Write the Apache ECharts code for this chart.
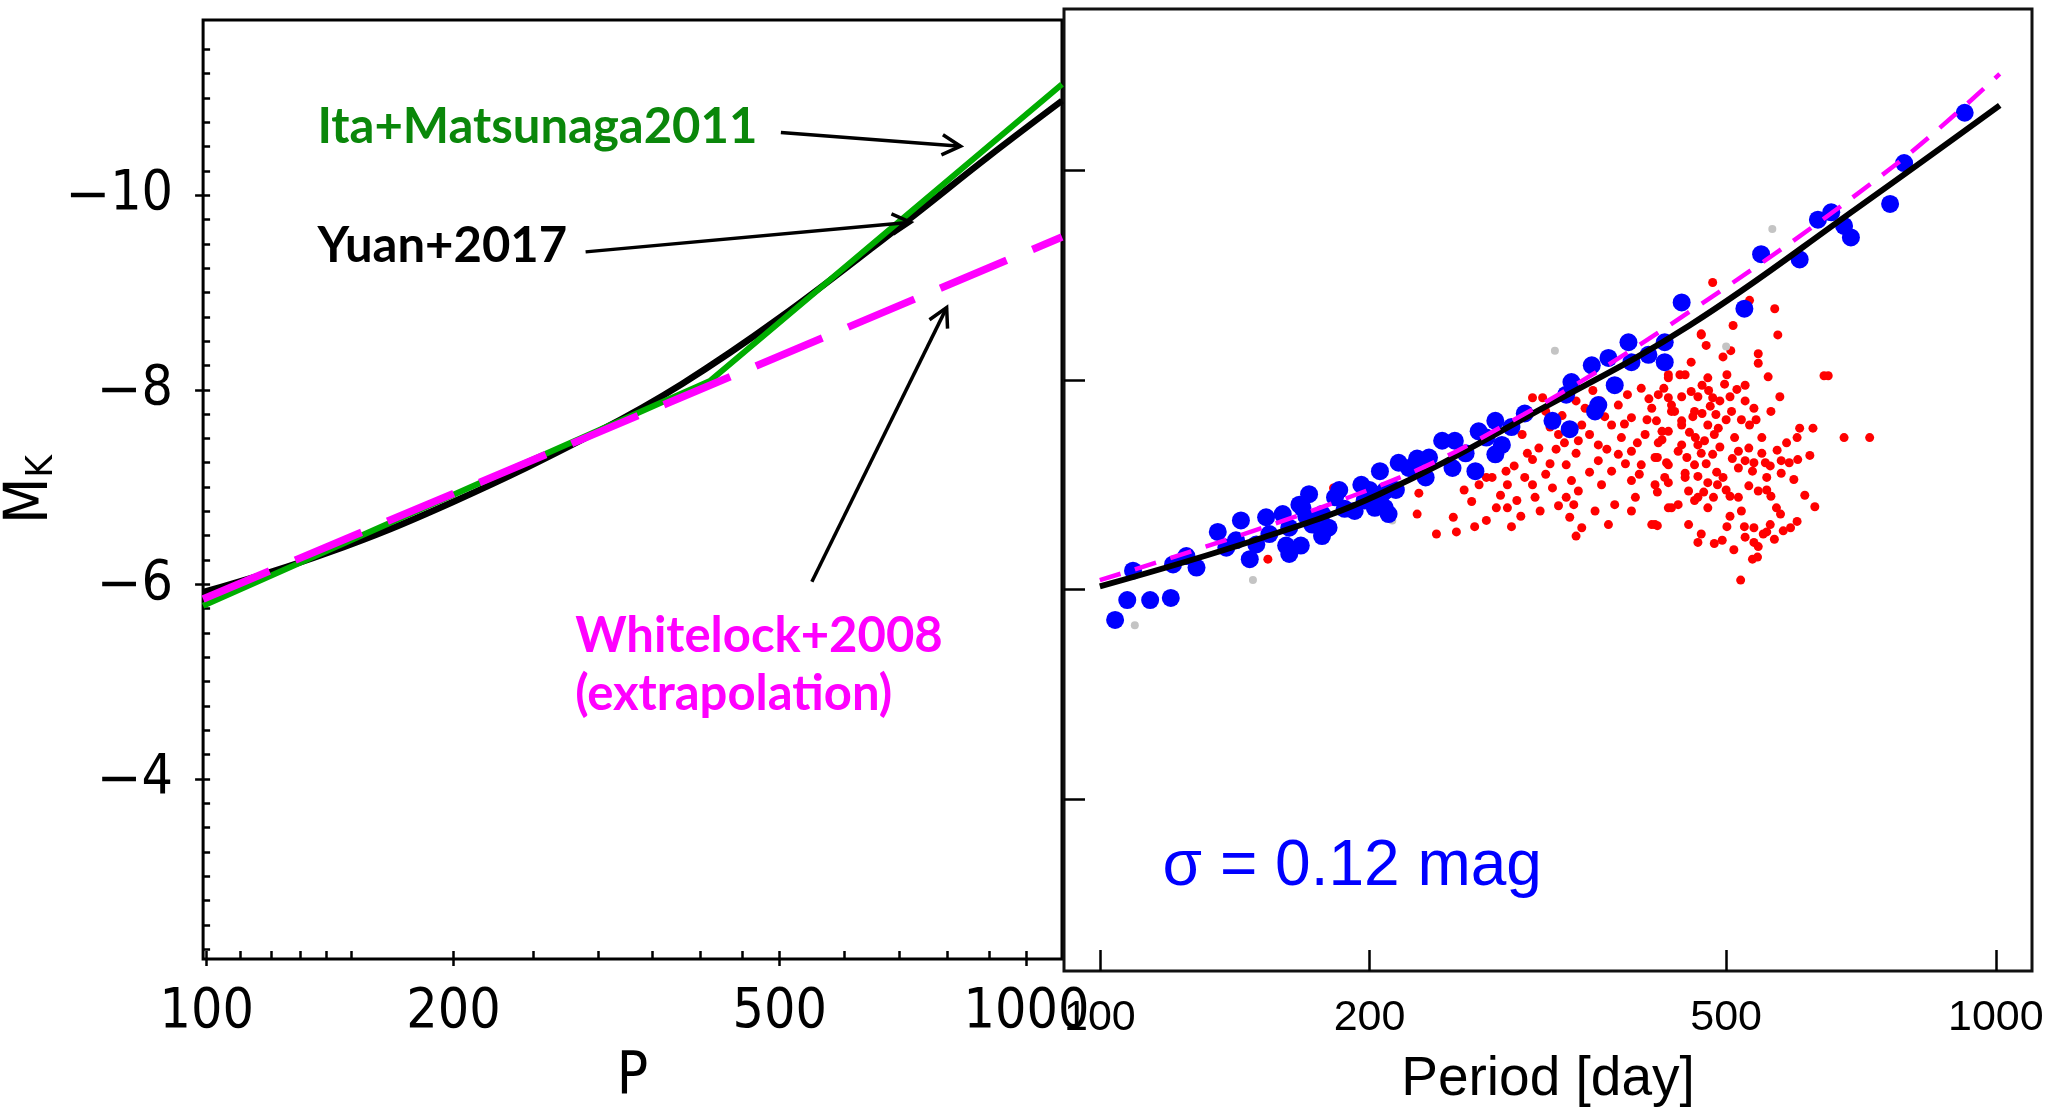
<!DOCTYPE html>
<html><head><meta charset="utf-8">
<script src="https://cdn.jsdelivr.net/npm/echarts@6.0.0/dist/echarts.min.js"></script>
<style>html,body{margin:0;padding:0;background:#fff}#c{width:2060px;height:1112px}</style>
</head><body><div id="c"></div>
<script>
// ---------------- Left panel data ----------------
const yuanP = [99, 140, 200, 300, 380, 500, 706, 900, 1105];
const yuanM = [-5.92, -6.32, -6.85, -7.57, -8.06, -8.74, -9.70, -10.40, -10.97];
const itaP = [99, 411, 1105];
const itaM = [-5.78, -8.09, -11.14];
const whiteP = [99, 1105];
const whiteM = [-5.85, -9.57];

const leftXLabels = [100, 200, 500, 1000];
const leftXTicks = [100, 110, 120, 130, 140, 150, 200, 250, 300, 350, 400, 450, 500, 600, 700, 800, 900, 1000];
const leftYLabels = [-10, -8, -6, -4];
const leftYTicks = [-11.5, -11.25, -11, -10.75, -10.5, -10.25, -10, -9.75, -9.5, -9.25, -9, -8.75, -8.5, -8.25, -8,
  -7.75, -7.5, -7.25, -7, -6.75, -6.5, -6.25, -6, -5.75, -5.5, -5.25, -5, -4.75, -4.5, -4.25, -4,
  -3.75, -3.5, -3.25, -3, -2.75, -2.5, -2.25];

const annotText = ['Ita+Matsunaga2011', 'Yuan+2017', 'Whitelock+2008', '(extrapolation)'];
const annotP = [136.5, 136.5, 281.5, 281.5];
const annotM = [-10.70, -9.475, -5.467, -4.876];
const arrowFromP = [501.7, 289.9, 547.3];
const arrowFromM = [-10.645, -9.417, -6.026];
const arrowToP = [831, 722.5, 799.2];
const arrowToM = [-10.503, -9.721, -8.844];

// ---------------- Right panel data ----------------
const fitP = [100, 150, 205, 315, 455, 700, 1010];
const fitM = [-6.03, -6.48, -6.91, -7.75, -8.52, -9.64, -10.62];
const dashP = [100, 205, 297, 455, 761, 1010];
const dashM = [-6.09, -6.99, -7.67, -8.65, -10.01, -10.92];
const rightXLabels = [100, 200, 500, 1000];
const rightYTicks = [-10, -8, -6, -4];

const bluePts = [
  [104,-5.71],[107.3,-5.90],[108.9,-6.18],[113.8,-5.90],[120,-5.92],[120.7,-6.24],[124.9,-6.32],[128.2,-6.21],
  [135.4,-6.55],[138.4,-6.40],[143.7,-6.66],[141.9,-6.47],[147,-6.29],[149.5,-6.43],[153.3,-6.69],[154.6,-6.53],
  [160,-6.72],[162.7,-6.59],[161.4,-6.42],[167.6,-6.42],[168.3,-6.78],[171.2,-6.91],[172.6,-6.62],[177,-6.51],
  [177,-6.72],[183,-6.88],[187.6,-6.77],[192.5,-6.75],[195.8,-7.00],[202.7,-6.78],[205.4,-7.13],[206.3,-6.91],
  [215.5,-7.21],[221.2,-7.16],[210,-6.72],[197.5,-6.85],[162.7,-6.34],[167,-6.81],[180,-6.59],
  [208,-6.94],[223,-7.16],[231,-7.07],[241,-7.42],[249,-7.42],[247.5,-7.16],[262.5,-7.13],
  [264.7,-7.51],[276.3,-7.61],[276.3,-7.29],[281,-7.38],[298,-7.68],[320,-7.61],[331.5,-7.86],[336,-7.98],
  [334.5,-7.53],[354,-8.14],[360,-7.76],[357,-7.70],[369.5,-8.21],[375.5,-7.95],[389,-8.36],[392,-8.17],
  [409.5,-8.24],[427,-8.36],[427,-8.17],[446,-8.74],[208,-6.78],[233,-7.26],
  [170,-6.70],[185,-6.95],[200,-6.95],[214,-6.95],[226,-7.25],[256,-7.30],[270,-7.45],[288,-7.55],
  [524,-8.68],[547,-9.20],[604,-9.15],[633,-9.53],[655,-9.60],[677,-9.47],[689,-9.36],[762,-9.68],
  [790,-10.07],[923,-10.55]
];
const redPts = [
  [154,-6.29],[182.3,-6.97],[340,-6.51],[285,-6.78],[542,-6.31],[483,-8.93],[531,-8.76],
  [227,-6.92],[226,-6.72],[248,-6.69],[260,-6.84],[270,-6.66],[277,-6.78],[274,-7.07],[285,-7.00],[290,-7.18],
  [298,-7.07],[304,-7.24],[304,-7.83],[312,-7.83],[309,-7.35],[314.5,-7.10],[320,-6.97],[323,-7.34],
  [331.5,-7.19],[336,-7.04],[342,-6.94],[334.5,-6.69],[325,-7.48],[342,-7.42],[345,-7.57],[348,-7.73],
  [360,-7.38],[360,-7.23],[363,-7.00],[372.5,-7.13],[375.5,-6.81],[372.5,-7.57],[379,-7.76],[382,-7.45],
  [392,-7.64],[392,-7.32],[392,-7.04],[396,-6.88],[402,-7.92],[406,-7.48],[413,-7.73],[416.5,-7.26],
  [416.5,-6.62],[424,-7.51],[427,-7.07],[431,-8.02],[434.5,-7.76],[434.5,-6.78],[442,-7.32],[446,-7.57],
  [450,-7.07],[450,-8.05],[457,-8.17],[461,-7.70],[465,-7.38],[465,-6.88],[469,-8.43],[457,-7.89],
  [304,-7.00],[284,-7.13],[306,-6.88],[338,-6.81],[357,-6.75],[369.5,-6.62],[392,-6.75],[416.5,-7.00],
  [431,-7.19],[237.5,-6.53],[270,-7.07],[296,-7.48],[314.5,-7.70],[331.5,-6.88],[345,-6.59],[379,-7.29],
  [402,-7.19],[438,-7.70],[454,-6.62],[413,-6.62],
  [566.5,-8.68],[571,-8.43],[509,-8.52],[469,-8.44],[475,-8.33],[506,-8.28],[543,-8.25],[543,-8.16],
  [496,-8.22],[557,-8.03],[643,-8.04],[650,-8.04],[501,-8.05],[477,-8.02],[525,-7.95],[574,-7.84],
  [514,-7.91],[505,-7.84],[483,-7.83],[465,-7.84],[446,-7.84],[431,-7.83],[420,-7.86],[525,-7.80],
  [537,-7.73],[561,-7.70],[507,-7.70],[487,-7.67],[477,-7.57],[490,-7.54],[459,-7.65],[434.5,-7.70],
  [446,-7.61],[418,-7.61],[531,-7.57],[604,-7.54],[625,-7.54],[677,-7.45],[723,-7.45],[431,-7.51],
  [424,-7.43],[446,-7.38],[473,-7.42],[469,-7.30],[483,-7.29],[516,-7.32],[530,-7.35],[548,-7.30],
  [525,-7.23],[537,-7.21],[553,-7.21],[576,-7.23],[588,-7.21],[601,-7.24],[516,-7.16],[535,-7.13],
  [576,-7.11],[419,-7.26],[429,-7.21],[461,-7.19],[450,-7.11],[465,-7.08],[477,-7.02],[496,-7.07],
  [555,-7.07],[431,-7.02],[419,-6.93],[530,-6.99],[543,-6.94],[561,-6.89],[505,-6.89],[516,-6.88],
  [454,-6.94],[461,-6.85],[431,-6.78],[442,-6.81],[477,-6.78],[569,-6.78],[628,-6.79],[419,-6.61],
  [501,-6.60],[524,-6.60],[537,-6.59],[550,-6.53],[579,-6.56],[590,-6.59],[469,-6.53],[465,-6.45],
  [485,-6.44],[495,-6.47],[537,-6.45],[566,-6.48],[543,-6.41],[535,-6.29],[519,-6.09],[431,-8.05],[444,-8.05],
  [318,-7.55],[328,-7.66],[340,-7.30],[352,-7.48],[355,-7.90],[366,-7.65],[368,-7.34],[385,-7.58],
  [388,-7.86],[398,-7.40],[400,-7.10],[408,-7.62],[410,-7.82],[420,-7.40],[426,-7.92],[352,-7.12],
  [386,-7.20],[362,-7.80],[340,-7.80],[330,-7.40],
  [470,-7.95],[480,-7.75],[485,-7.48],[492,-7.36],[488,-7.12],[475,-7.20],[478,-7.90],[492,-7.80],
  [500,-7.62],[470,-7.68],[455,-7.50],[462,-7.45],[452,-7.26],[498,-7.96],[511,-7.45],[520,-7.62],
  [508,-7.25],[489,-7.00],[472,-6.93],[484,-6.88],[500,-6.95],[505,-6.70],[520,-6.75],[555,-6.95],
  [560,-7.18],[570,-7.33],[548,-7.45],[540,-7.62],[584,-7.40],[595,-7.05],[612,-6.90],[600,-6.65],
  [560,-6.62],[575,-6.72],[525,-6.50],[510,-6.38],[555,-6.55],[600,-7.45],[620,-7.28],
  [255,-6.95],[265,-7.00],[280,-6.90],[292,-6.85],[300,-7.30],[310,-6.75],[318,-7.20],[262,-6.60],
  [288,-6.60],[250,-6.55],[325,-6.80],[295,-6.70]
];
const greyPts = [[109.4,-5.66],[148.2,-6.09],[212,-6.66],[322,-8.28],[500,-8.32],[563,-9.44]];
const sigmaText = 'σ = 0.12 mag';
const sigmaPos = [117.5, -3.35];

const zip = (a, b) => a.map((v, i) => [v, b[i]]);

const NARROW = "'Liberation Sans Narrow', 'DejaVu Sans Condensed', sans-serif";
const ARIAL = "'Liberation Sans', Arial, sans-serif";

const chart = echarts.init(document.getElementById('c'), null, {renderer: 'canvas'});

const option = {
  animation: false,
  backgroundColor: '#fff',
  grid: [
    {left: 203, top: 20, width: 859, height: 948, show: true, borderColor: '#000', borderWidth: 3, backgroundColor: 'transparent'},
    {left: 1064, top: 9, width: 968, height: 967, show: true, borderColor: '#111', borderWidth: 3, backgroundColor: 'transparent'}
  ],
  xAxis: [
    {type: 'log', gridIndex: 0, min: 99, max: 1105, position: 'bottom',
     name: 'P', nameLocation: 'middle', nameGap: 90,
     nameTextStyle: {fontFamily: NARROW, fontSize: 58, color: '#000'},
     axisLine: {show: false}, splitLine: {show: false},
     axisTick: {show: true, inside: true, length: 8, customValues: leftXTicks, lineStyle: {color: '#000', width: 2.5}},
     axisLabel: {show: true, customValues: leftXLabels, margin: 26, fontFamily: NARROW, fontSize: 55, color: '#000',
       formatter: v => String(Math.round(v))}},
    {type: 'log', gridIndex: 0, min: 99, max: 1105, position: 'bottom',
     axisLine: {show: false}, splitLine: {show: false}, axisLabel: {show: false},
     axisTick: {show: true, inside: false, length: 7, customValues: leftXLabels, lineStyle: {color: '#000', width: 2.5}}},
    {type: 'log', gridIndex: 1, min: 91.2, max: 1097.3, position: 'bottom',
     name: 'Period [day]', nameLocation: 'middle', nameGap: 81,
     nameTextStyle: {fontFamily: ARIAL, fontSize: 55, color: '#000'},
     axisLine: {show: false}, splitLine: {show: false},
     axisTick: {show: true, inside: true, length: 21, customValues: rightXLabels, lineStyle: {color: '#000', width: 2.5}},
     axisLabel: {show: true, customValues: rightXLabels, margin: 26, fontFamily: ARIAL, fontSize: 43, color: '#000',
       formatter: v => String(Math.round(v))}}
  ],
  yAxis: [
    {type: 'value', gridIndex: 0, inverse: true, min: -11.8, max: -2.15, position: 'left',
     name: '{M|M}{K|K}', nameLocation: 'middle', nameGap: 140, nameRotate: 90,
     nameTextStyle: {rich: {M: {fontFamily: NARROW, fontSize: 60, color: '#000'},
                            K: {fontFamily: NARROW, fontSize: 38, color: '#000', verticalAlign: 'bottom', padding: [22, 0, 0, 0]}}},
     axisLine: {show: false}, splitLine: {show: false},
     axisTick: {show: true, inside: true, length: 7, customValues: leftYTicks, lineStyle: {color: '#000', width: 2.5}},
     axisLabel: {show: true, customValues: leftYLabels, margin: 30,
       formatter: v => '{m|\u2212}{d|' + Math.abs(v) + '}',
       rich: {m: {fontFamily: "'DejaVu Sans', sans-serif", fontSize: 54, color: '#000', padding: [6, 0, 0, 0]},
              d: {fontFamily: NARROW, fontSize: 55, color: '#000'}}}},
    {type: 'value', gridIndex: 0, inverse: true, min: -11.8, max: -2.15, position: 'left',
     axisLine: {show: false}, splitLine: {show: false}, axisLabel: {show: false},
     axisTick: {show: true, inside: false, length: 8, customValues: leftYLabels, lineStyle: {color: '#000', width: 2.5}}},
    {type: 'value', gridIndex: 1, inverse: true, min: -11.54, max: -2.36, position: 'left',
     axisLine: {show: false}, splitLine: {show: false}, axisLabel: {show: false},
     axisTick: {show: true, inside: true, length: 21, customValues: rightYTicks, lineStyle: {color: '#000', width: 2.5}}}
  ],
  series: [
    {type: 'line', xAxisIndex: 0, yAxisIndex: 0, data: zip(yuanP, yuanM), smooth: 0.4, symbol: 'none',
     lineStyle: {color: '#000', width: 6.5}, z: 3},
    {type: 'line', xAxisIndex: 0, yAxisIndex: 0, data: zip(itaP, itaM), symbol: 'none',
     lineStyle: {color: '#00ad00', width: 6}, z: 4},
    {type: 'line', xAxisIndex: 0, yAxisIndex: 0, data: zip(whiteP, whiteM), symbol: 'none',
     lineStyle: {color: '#ff00ff', width: 7.5, type: [72, 28]}, z: 5},
    {type: 'custom', xAxisIndex: 0, yAxisIndex: 0, z: 6, clip: false,
     data: arrowFromP.map((p, i) => [p, arrowFromM[i], arrowToP[i], arrowToM[i]]),
     encode: {x: [0, 2], y: [1, 3]},
     renderItem: (params, api) => {
       const a = api.coord([api.value(0), api.value(1)]);
       const b = api.coord([api.value(2), api.value(3)]);
       const ang = Math.atan2(b[1] - a[1], b[0] - a[0]);
       const L = 21, h = 0.5;
       const p1 = [b[0] - L * Math.cos(ang - h), b[1] - L * Math.sin(ang - h)];
       const p2 = [b[0] - L * Math.cos(ang + h), b[1] - L * Math.sin(ang + h)];
       return {type: 'group', children: [
         {type: 'line', shape: {x1: a[0], y1: a[1], x2: b[0], y2: b[1]}, style: {stroke: '#000', lineWidth: 3.5}},
         {type: 'polyline', shape: {points: [p1, b, p2]}, style: {stroke: '#000', lineWidth: 3.5, fill: null}}
       ]};
     }},
    {type: 'custom', xAxisIndex: 0, yAxisIndex: 0, z: 7, clip: false,
     data: annotP.map((p, i) => [p, annotM[i]]),
     encode: {x: 0, y: 1},
     renderItem: (params, api) => {
       const c = api.coord([api.value(0), api.value(1)]);
       const colors = ['#0a870a', '#000000', '#ff00ff', '#ff00ff'];
       return {type: 'text', x: c[0], y: c[1],
         style: {text: annotText[params.dataIndex], fill: colors[params.dataIndex],
                 font: "bold 49px Lato, 'Open Sans', sans-serif", align: 'left', verticalAlign: 'middle'}};
     }},
    // right panel
    {type: 'scatter', xAxisIndex: 2, yAxisIndex: 2, data: redPts, symbol: 'circle', symbolSize: 9,
     itemStyle: {color: '#ff0000', opacity: 1}, z: 2},
    {type: 'scatter', xAxisIndex: 2, yAxisIndex: 2, data: greyPts, symbol: 'circle', symbolSize: 8,
     itemStyle: {color: '#c4c4c4', opacity: 1}, z: 2},
    {type: 'scatter', xAxisIndex: 2, yAxisIndex: 2, data: bluePts, symbol: 'circle', symbolSize: 18,
     itemStyle: {color: '#0000ff', opacity: 1}, z: 3},
    {type: 'line', xAxisIndex: 2, yAxisIndex: 2, data: zip(fitP, fitM), smooth: 0.4, symbol: 'none',
     lineStyle: {color: '#000', width: 6}, z: 4},
    {type: 'line', xAxisIndex: 2, yAxisIndex: 2, data: zip(dashP, dashM), smooth: 0.4, symbol: 'none',
     lineStyle: {color: '#ff00ff', width: 4.5, type: [22, 15]}, z: 5},
    {type: 'custom', xAxisIndex: 2, yAxisIndex: 2, z: 6, clip: false,
     data: [sigmaPos], encode: {x: 0, y: 1},
     renderItem: (params, api) => {
       const c = api.coord([api.value(0), api.value(1)]);
       return {type: 'text', x: c[0], y: c[1],
         style: {text: sigmaText, fill: '#0000ff', font: "64px 'Liberation Sans', Arial, sans-serif",
                 align: 'left', verticalAlign: 'middle'}};
     }}
  ]
};
chart.setOption(option);
</script></body></html>
